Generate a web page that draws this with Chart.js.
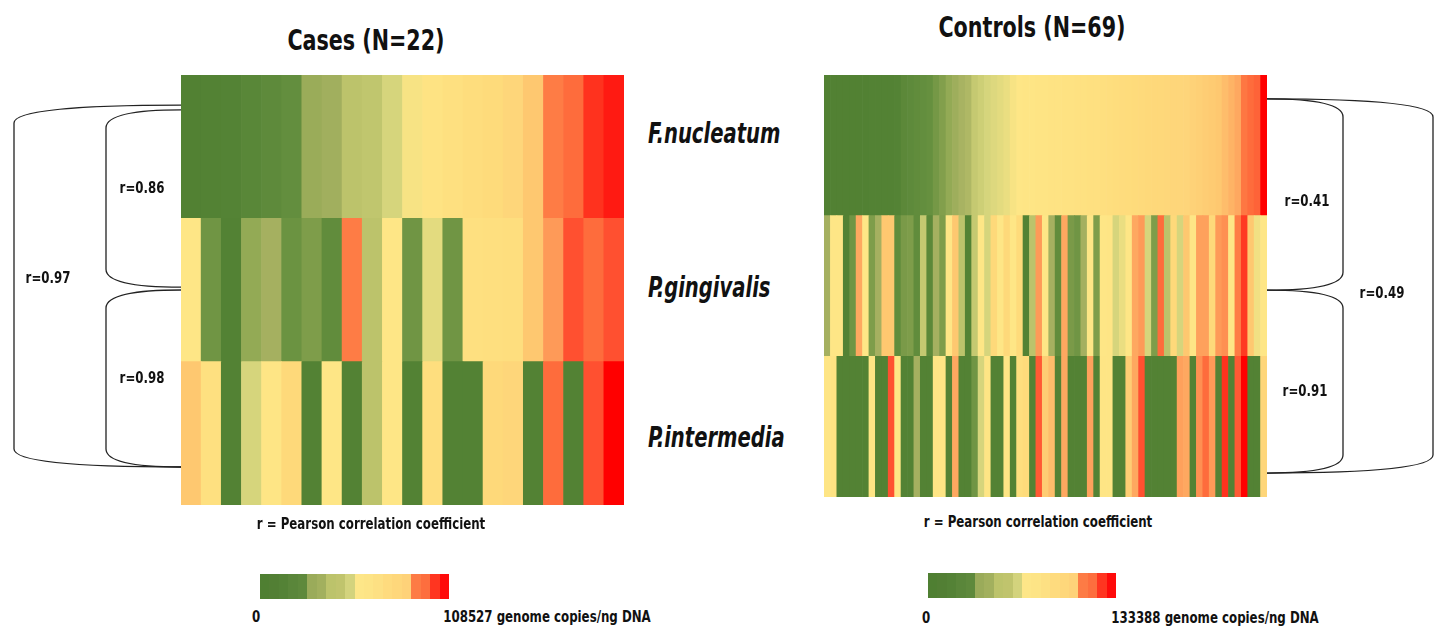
<!DOCTYPE html>
<html>
<head>
<meta charset="utf-8">
<script src="https://cdn.jsdelivr.net/npm/chart.js@4.4.1/dist/chart.umd.min.js"></script>
<style>
  body { margin:0; width:1437px; height:626px; background:#fff; position:relative; overflow:hidden;
         font-family:'Liberation Sans Narrow','DejaVu Sans Condensed','Roboto',sans-serif; color:#111; }
  canvas { position:absolute; }
  .t { position:absolute; transform:translate(-50%,-50%) scaleX(0.82); white-space:nowrap; font-weight:bold; }
  .title { font-size:28px; }
  .sp { font-size:29px; font-style:italic; transform:translate(0,-50%) scaleX(0.75); transform-origin:left center; }
  .r { font-size:16px; }
  .note { font-size:16px; }
  .bar { position:absolute; height:25px; }
</style>
</head>
<body>
<div class="t title" style="left:366px;top:40px">Cases (N=22)</div>
<div class="t title" style="left:1032px;top:27px">Controls (N=69)</div>

<canvas id="cases" width="640" height="460" style="left:0;top:60px"></canvas>
<canvas id="controls" width="637" height="450" style="left:800px;top:60px"></canvas>

<div id="species"></div>

<div class="t r" style="left:142px;top:187px">r=0.86</div>
<div class="t r" style="left:48px;top:277px">r=0.97</div>
<div class="t r" style="left:142px;top:377px">r=0.98</div>
<div class="t r" style="left:1307px;top:200px">r=0.41</div>
<div class="t r" style="left:1382px;top:292px">r=0.49</div>
<div class="t r" style="left:1305px;top:390px">r=0.91</div>

<div class="t note" style="left:371px;top:523px">r = Pearson correlation coefficient</div>
<div class="t note" style="left:1038px;top:521px">r = Pearson correlation coefficient</div>

<div class="bar" id="legCases" style="left:260px;top:574px;width:189px"></div>
<div class="bar" id="legControls" style="left:928px;top:573px;width:188px"></div>
<div class="t note" style="left:256px;top:616px">0</div>
<div class="t note" style="left:547px;top:616px">108527 genome copies/ng DNA</div>
<div class="t note" style="left:926px;top:617px">0</div>
<div class="t note" style="left:1215px;top:617px">133388 genome copies/ng DNA</div>

<script>
// rows of the heatmaps, top to bottom
var species = ['F.nucleatum', 'P.gingivalis', 'P.intermedia'];
var speciesY = [133, 287, 437];

// cell values, 0 = lowest, 100 = highest colour
var casesNucleatum = [2,3,4,8,12,16,30,32,40,41,46,51,55,58,61,64,70,77,85,88,95,98];
var casesGingivalis = [52,20,3,28,33,19,23,14,85,40,52,20,48,20,58,59,60,77,82,91,88,91];
var casesIntermedia = [77,58,3,46,53,66,3,52,3,40,52,3,60,3,3,66,70,3,88,3,91,100];

var controlsNucleatum = [2,2,2,2,2,2,2,3,3,3,3,4,10,12,14,16,18,21,24,28,31,34,36,42,44,46,47,48,49,
  51,52,53,53,54,54,55,55,56,56,57,57,58,58,59,60,61,62,63,64,65,66,67,68,69,70,71,72,73,74,75,76,77,78,79,80,86,88,89,100];
var controlsGingivalis = [33,52,52,3,20,80,52,23,33,77,77,14,22,23,14,42,10,33,23,52,77,40,3,42,52,46,66,52,66,52,
  64,3,40,82,52,33,14,80,22,20,33,52,23,52,53,46,49,52,80,82,46,23,88,40,66,46,77,52,81,81,66,82,83,52,85,94,77,50,52];
var controlsIntermedia = [53,55,3,3,3,3,3,53,3,3,91,53,3,3,33,3,3,53,53,3,80,3,3,20,46,53,3,3,53,3,
  60,64,3,90,75,78,3,80,3,3,3,81,3,53,53,3,3,75,80,91,3,3,3,3,3,81,80,3,83,88,82,3,95,3,90,100,3,3,70];

// colour scale
var stopVals = [0,18,22,28,33,40,46,52,60,66,72,77,80,82,85,88,91,94,98,100];
var stopColors = ['#4f7f32','#66903f','#7a9a48','#93aa55','#a5b060','#bcc36b','#d6d57c','#fee686','#fede7e','#fed97a',
  '#fed57a','#fec870','#fea860','#fe9a58','#fe7c45','#fe6c3c','#ff5030','#ff3a22','#ff1a12','#ff0000'];

var legendColors = ['#4f7f32','#527f34','#548236','#5a863a','#5e893c','#9aab5a','#a2b05e','#bcc36b','#c0c46d','#d3d37d',
  '#fde688','#fde486','#fde083','#fedb7e','#fed77b','#fed279','#fd7b45','#fd6e3e','#ff3520','#ff0a0a'];

// brackets in y data units (rows span 0..3)
var casesBrackets = [{top:2.79, bottom:0.265, depth:167}, {top:2.756, bottom:1.52, depth:75}, {top:1.50, bottom:0.265, depth:75}];
var controlsBrackets = [{top:2.83, bottom:0.17, depth:166}, {top:2.83, bottom:1.47, depth:76}, {top:1.47, bottom:0.17, depth:76}];

function hex(c){ return [parseInt(c.substr(1,2),16), parseInt(c.substr(3,2),16), parseInt(c.substr(5,2),16)]; }

function valueColor(v){
  for (var i = 1; i < stopVals.length; i++) {
    if (v <= stopVals[i]) {
      var t = (v - stopVals[i-1]) / (stopVals[i] - stopVals[i-1]);
      var a = hex(stopColors[i-1]), b = hex(stopColors[i]);
      return 'rgb(' + a.map(function(x,k){ return Math.round(x + (b[k]-x)*t); }).join(',') + ')';
    }
  }
  return stopColors[stopColors.length-1];
}

var bracketPlugin = {
  id: 'brackets',
  afterDraw: function(chart, args, opts){
    var ctx = chart.ctx, y = chart.scales.y, area = chart.chartArea;
    var left = opts.side === 'left';
    var x0 = left ? area.left : area.right;
    ctx.save();
    ctx.strokeStyle = '#222';
    ctx.lineWidth = 1.3;
    opts.list.forEach(function(b){
      var sgn = left ? -1 : 1;
      var xv = x0 + sgn * b.depth;
      var yt = y.getPixelForValue(b.top), yb = y.getPixelForValue(b.bottom);
      ctx.beginPath();
      ctx.moveTo(x0, yt);
      ctx.bezierCurveTo(x0 + sgn*b.depth*0.6, yt, xv, yt + 5, xv, yt + 18);
      ctx.lineTo(xv, yb - 18);
      ctx.bezierCurveTo(xv, yb - 5, x0 + sgn*b.depth*0.6, yb, x0, yb);
      ctx.stroke();
    });
    ctx.restore();
  }
};

function heatmap(id, rows, pad, side, brackets){
  var labels = rows[0].map(function(v,i){ return i + 1; });
  // stacked bars: first dataset is the bottom row
  var datasets = rows.slice().reverse().map(function(r){
    return {
      data: r.map(function(){ return 1; }),
      backgroundColor: r.map(valueColor),
      borderWidth: 0,
      categoryPercentage: 1,
      barPercentage: 1
    };
  });
  return new Chart(document.getElementById(id), {
    type: 'bar',
    data: { labels: labels, datasets: datasets },
    options: {
      responsive: false,
      animation: false,
      layout: { padding: pad },
      plugins: { legend: { display: false }, tooltip: { enabled: false }, brackets: { side: side, list: brackets } },
      scales: {
        x: { stacked: true, display: false },
        y: { stacked: true, display: false, min: 0, max: 3 }
      }
    },
    plugins: [bracketPlugin]
  });
}

heatmap('cases', [casesNucleatum, casesGingivalis, casesIntermedia], {left:181, right:16, top:15, bottom:15}, 'left', casesBrackets);
heatmap('controls', [controlsNucleatum, controlsGingivalis, controlsIntermedia], {left:24, right:170, top:15, bottom:13}, 'right', controlsBrackets);

// colour keys
function legendBar(id){
  var n = legendColors.length, stops = [];
  legendColors.forEach(function(c,i){
    stops.push(c + ' ' + (i*100/n).toFixed(2) + '%', c + ' ' + ((i+1)*100/n).toFixed(2) + '%');
  });
  document.getElementById(id).style.background = 'linear-gradient(to right,' + stops.join(',') + ')';
}
legendBar('legCases');
legendBar('legControls');

var holder = document.getElementById('species');
species.forEach(function(s,i){
  var d = document.createElement('div');
  d.className = 't sp';
  d.style.left = '648px';
  d.style.top = speciesY[i] + 'px';
  d.textContent = s;
  holder.appendChild(d);
});
</script>
</body>
</html>
